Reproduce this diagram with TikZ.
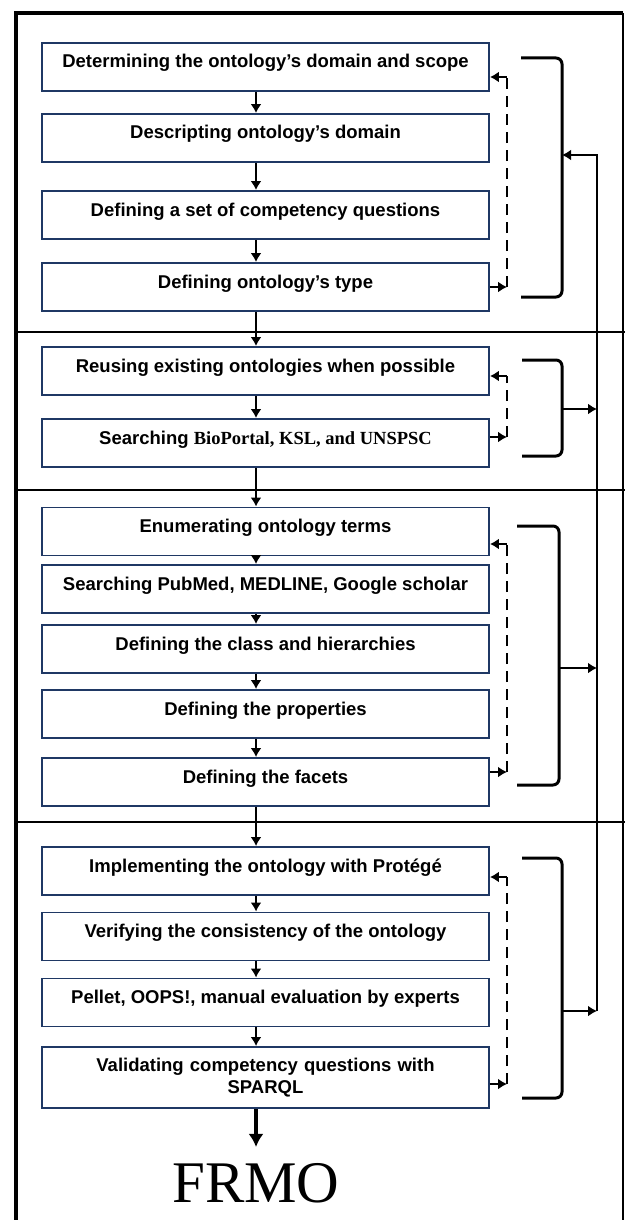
\documentclass[tikz,border=0pt]{standalone}
\usepackage{fontspec}
\setmainfont{Liberation Serif}
\setsansfont{Liberation Sans}
\definecolor{boxnavy}{RGB}{31,56,100}
\usetikzlibrary{arrows.meta,positioning}

\begin{document}
\begin{tikzpicture}[x=1pt, y=-1pt,
  stage/.style={draw=boxnavy, line width=1.8pt, fill=white, inner sep=0pt,
                minimum width=447pt, minimum height=48pt,
                font=\sffamily\bfseries\fontsize{18.5}{22}\selectfont},
  oneline/.style={stage, text height=13pt, text depth=11pt},
  flow/.style={line width=2.8pt, -{Latex[length=9pt,width=11pt]}},
  loopend/.style={line width=2.8pt, -{Latex[length=9pt,width=11pt]}},
  loop/.style={line width=2.8pt, dash pattern=on 11pt off 7pt},
  bracket/.style={line width=3pt, rounded corners=6pt}]

\useasboundingbox (0,0) rectangle (625,1220);

% === outer frame and section lines ===
\draw[line width=3.5pt] (16,1224) -- (16,13) -- (623,13);
\draw[line width=2pt] (623,13) -- (623,1224);
\draw[line width=2pt] (16,332) -- (625,332);
\draw[line width=2pt] (16,490) -- (625,490);
\draw[line width=2pt] (16,822) -- (625,822);

% === Section 1: specification ===
\node[oneline] (s1) at (265.5,67) {Determining the ontology’s domain and scope};
\node[oneline] (s2) at (265.5,138) {Descripting ontology’s domain};
\node[oneline] (s3) at (265.5,215) {Defining a set of competency questions};
\node[oneline] (s4) at (265.5,287) {Defining ontology’s type};

% === Section 2: reuse ===
\node[oneline] (s5) at (265.5,371) {Reusing existing ontologies when possible};
\node[oneline] (s6) at (265.5,443) {Searching {\rmfamily BioPortal, KSL, and UNSPSC}};

% === Section 3: conceptualization ===
\node[oneline] (s7) at (265.5,531.5) {Enumerating ontology terms};
\node[oneline] (s8) at (265.5,589) {Searching PubMed, MEDLINE, Google scholar};
\node[oneline] (s9) at (265.5,649) {Defining the class and hierarchies};
\node[oneline] (s10) at (265.5,714) {Defining the properties};
\node[oneline] (s11) at (265.5,782) {Defining the facets};

% === Section 4: implementation and evaluation ===
\node[oneline] (s12) at (265.5,871) {Implementing the ontology with Protégé};
\node[oneline] (s13) at (265.5,936.5) {Verifying the consistency of the ontology};
\node[oneline] (s14) at (265.5,1002.5) {Pellet, OOPS!, manual evaluation by experts};
\node[stage, minimum height=61pt, text width=440pt, align=center]
     (s15) at (265.5,1077.5) {Validating competency questions with\\SPARQL};

\node[font=\rmfamily\fontsize{59}{60}\selectfont, inner sep=0pt] (frmo) at (256,1183) {FRMO};

% main flow
\foreach \a/\b in {s1/s2,s2/s3,s3/s4,s4/s5,s5/s6,s6/s7,s7/s8,s8/s9,s9/s10,s10/s11,
                   s11/s12,s12/s13,s13/s14,s14/s15}
  \draw[flow] ([xshift=-9.5pt]\a.south) -- ([xshift=-9.5pt]\b.north);
\draw[line width=4.5pt, -{Latex[length=13pt,width=15pt]}]
  ([xshift=-9.5pt]s15.south) -- ([yshift=16pt]frmo.north);

% === dashed iteration loops ===
\coordinate (d1t) at (507,77);   \coordinate (d1b) at (507,287);
\coordinate (d2t) at (507,376);  \coordinate (d2b) at (507,437);
\coordinate (d3t) at (507,544);  \coordinate (d3b) at (507,772);
\coordinate (d4t) at (507,877);  \coordinate (d4b) at (507,1084);
\foreach \t/\b/\first/\last in {d1t/d1b/s1/s4, d2t/d2b/s5/s6, d3t/d3b/s7/s11, d4t/d4b/s12/s15}{
  \draw[loopend] (\b -| \last.east) -- (\b);
  \draw[loop] (\b) -- (\t);
  \draw[loopend] (\t) -- (\t -| \first.east);
}

% === section brackets ===
\draw[bracket] (521,58) -| (562,297) -- (521,297);
\draw[bracket] (522,360) -| (562,456) -- (522,456);
\draw[bracket] (517,526) -| (559,785) -- (517,785);
\draw[bracket] (522,858) -| (562,1098) -- (522,1098);

% === feedback rail ===
\coordinate (k1) at (562,155);  \coordinate (r1) at (597,155);
\coordinate (k2) at (562,409);  \coordinate (r2) at (597,409);
\coordinate (k3) at (559,668);  \coordinate (r3) at (597,668);
\coordinate (k4) at (562,1011); \coordinate (r4) at (597,1011);
\draw[flow] (k2) -- (r2);
\draw[flow] (k3) -- (r3);
\draw[flow] (k4) -- (r4);
\draw[flow] (r4) -- (r1) -- (k1);

\end{tikzpicture}
\end{document}
